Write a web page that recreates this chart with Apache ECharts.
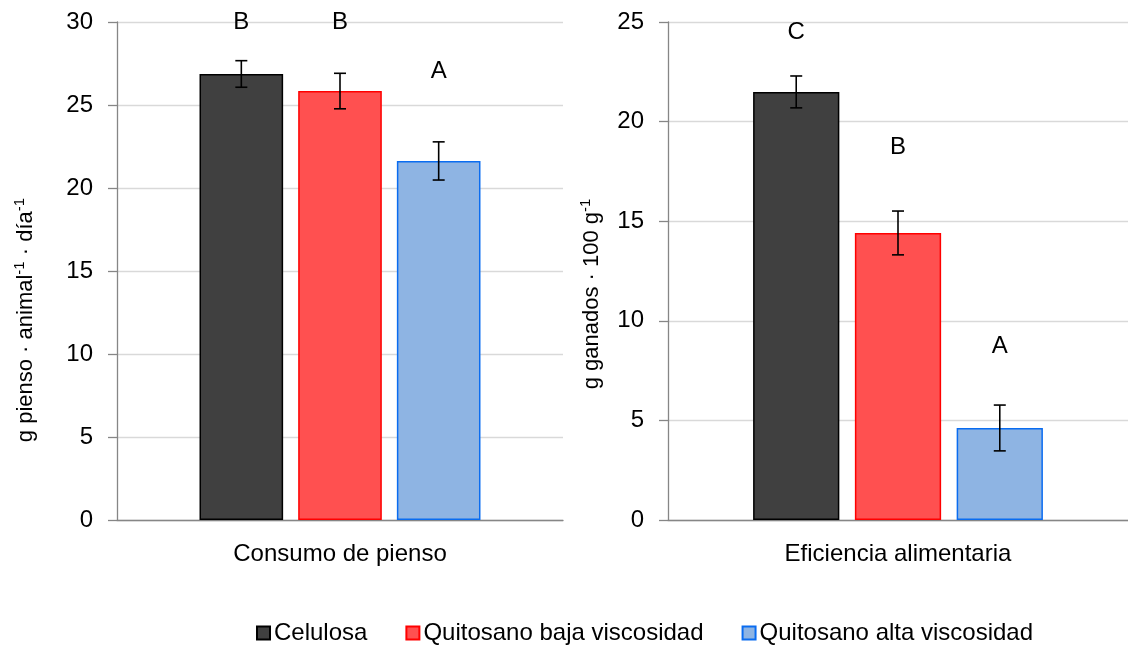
<!DOCTYPE html>
<html>
<head>
<meta charset="utf-8">
<script src="https://cdn.jsdelivr.net/npm/echarts@6/dist/echarts.min.js"></script>
<style>html,body{margin:0;padding:0;background:#fff}#c{width:1128px;height:647px}</style>
</head>
<body>
<div id="c"></div>
<script>
// ---- data ----
const groups = ['Celulosa', 'Quitosano baja viscosidad', 'Quitosano alta viscosidad'];
const panels = ['Consumo de pienso', 'Eficiencia alimentaria'];
const consumo = [26.87, 25.84, 21.63];
const consumoErr = [0.8, 1.07, 1.15];
const consumoLetters = ['B', 'B', 'A'];
const consumoLetterY = [30.0, 30.0, 27.05];
const eficiencia = [21.49, 14.41, 4.62];
const eficienciaErr = [0.8, 1.1, 1.15];
const eficienciaLetters = ['C', 'B', 'A'];
const eficienciaLetterY = [24.5, 18.7, 8.7];
const yMaxLeft = 30, yMaxRight = 25, yStep = 5;

const FONT = 'Liberation Sans';
const FS = 24;
const colors = ['#404040', '#ff5050', '#8eb4e3'];
const borders = ['#000000', '#ff0000', '#0a6cf0'];
const CAT_GAP = 0.37, BAR_GAP = 0.18;

function barSeries(values, gridIdx) {
  return groups.map((g, i) => ({
    name: g, type: 'bar', xAxisIndex: gridIdx, yAxisIndex: gridIdx,
    data: [values[i]],
    barGap: (BAR_GAP * 100) + '%', barCategoryGap: (CAT_GAP * 100) + '%',
    itemStyle: { color: colors[i], borderColor: borders[i], borderWidth: 1.5 },
    emphasis: { disabled: true }, z: 2
  }));
}

function errSeries(values, errs, letters, letterY, gridIdx) {
  const data = values.map((v, i) => [0, v, errs[i], i, letterY[i]]);
  return {
    type: 'custom', xAxisIndex: gridIdx, yAxisIndex: gridIdx, z: 5, silent: true,
    data: data, encode: { x: 0, y: 1 },
    renderItem: function (params, api) {
      const cat = api.value(0), val = api.value(1), err = api.value(2), gi = api.value(3), ly = api.value(4);
      const band = api.size([1, 0])[0];
      const bw = band * (1 - CAT_GAP) / (3 + 2 * BAR_GAP);
      const off = (gi - 1) * bw * (1 + BAR_GAP);
      const c = api.coord([cat, val]);
      const x = c[0] + off;
      const yt = api.coord([cat, val + err])[1];
      const yb = api.coord([cat, val - err])[1];
      const yl = api.coord([cat, ly])[1];
      const st = { stroke: '#000', lineWidth: 1.6 };
      const hw = 6;
      return {
        type: 'group', children: [
          { type: 'line', shape: { x1: x, y1: yt, x2: x, y2: yb }, style: st },
          { type: 'line', shape: { x1: x - hw, y1: yt, x2: x + hw, y2: yt }, style: st },
          { type: 'line', shape: { x1: x - hw, y1: yb, x2: x + hw, y2: yb }, style: st },
          { type: 'text', x: x, y: yl, style: { text: letters[params.dataIndex], fill: '#000', font: 'normal ' + FS + 'px "' + FONT + '"', align: 'center', verticalAlign: 'middle' } }
        ]
      };
    }
  };
}

function yAxis(gridIdx, max) {
  return {
    type: 'value', gridIndex: gridIdx, min: 0, max: max, interval: yStep,
    axisLine: { show: true, lineStyle: { color: '#868686', width: 1.3 } },
    axisTick: { show: true, length: 9, lineStyle: { color: '#868686', width: 1.3 } },
    axisLabel: { color: '#000', fontSize: FS, fontFamily: FONT, margin: 24 },
    splitLine: { show: true, lineStyle: { color: '#d9d9d9', width: 1.3 } }
  };
}
function xAxis(gridIdx) {
  return {
    type: 'category', gridIndex: gridIdx, data: [panels[gridIdx]],
    axisLine: { show: true, lineStyle: { color: '#868686', width: 1.3 } },
    axisTick: { show: false },
    axisLabel: { color: '#000', fontSize: FS, fontFamily: FONT, margin: 22 }
  };
}

const sup = { font: 'normal 15px "' + FONT + '"', fill: '#000', stroke: 'none', lineWidth: 0, padding: [0, 0, 12, 0] };
const norm = { font: 'normal 22px "' + FONT + '"', fill: '#000', stroke: 'none', lineWidth: 0 };

const chart = echarts.init(document.getElementById('c'), null, { renderer: 'canvas' });
const option = {
  animation: false,
  textStyle: { fontFamily: FONT },
  grid: [
    { left: 117, top: 22, width: 446, bottom: 127 },
    { left: 668, top: 22, width: 468, bottom: 127 }
  ],
  xAxis: [xAxis(0), xAxis(1)],
  yAxis: [yAxis(0, yMaxLeft), yAxis(1, yMaxRight)],
  legend: {
    data: groups, top: 616, left: 251, itemWidth: 13, itemHeight: 13, itemGap: 38,
    icon: 'rect',
    textStyle: { color: '#000', fontSize: FS, fontFamily: FONT, padding: [0, 0, 0, -1] }
  },
  series: [
    ...barSeries(consumo, 0),
    ...barSeries(eficiencia, 1),
    errSeries(consumo, consumoErr, consumoLetters, consumoLetterY, 0),
    errSeries(eficiencia, eficienciaErr, eficienciaLetters, eficienciaLetterY, 1)
  ],
  graphic: [
    { type: 'text', x: 26, y: 320, rotation: Math.PI / 2, style: {
      text: '{n|g pienso · animal}{s|-1}{n| · día}{s|-1}', align: 'center', verticalAlign: 'middle',
      font: 'normal 22px "' + FONT + '"', fill: '#000', stroke: 'none', lineWidth: 0, rich: { n: norm, s: sup } } },
    { type: 'text', x: 592, y: 294, rotation: Math.PI / 2, style: {
      text: '{n|g ganados · 100 g}{s|-1}', align: 'center', verticalAlign: 'middle',
      font: 'normal 22px "' + FONT + '"', fill: '#000', stroke: 'none', lineWidth: 0, rich: { n: norm, s: sup } } }
  ]
};
chart.setOption(option);
// small downward tick at the origin of each category axis
const o0 = chart.convertToPixel({ gridIndex: 0 }, [0, 0]);
const o1 = chart.convertToPixel({ gridIndex: 1 }, [0, 0]);
const band0 = chart.getModel().getComponent('xAxis', 0).axis.getBandWidth();
const band1 = chart.getModel().getComponent('xAxis', 1).axis.getBandWidth();
chart.setOption({ graphic: [
  { type: 'line', shape: { x1: o0[0] - band0 / 2, y1: o0[1], x2: o0[0] - band0 / 2, y2: o0[1] + 8 }, style: { stroke: '#868686', lineWidth: 1.3 } },
  { type: 'line', shape: { x1: o1[0] - band1 / 2, y1: o1[1], x2: o1[0] - band1 / 2, y2: o1[1] + 8 }, style: { stroke: '#868686', lineWidth: 1.3 } }
] });
</script>
</body>
</html>
